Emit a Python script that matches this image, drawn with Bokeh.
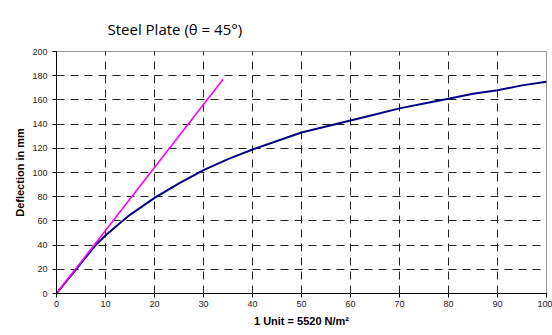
from bokeh.plotting import figure
from bokeh.models import Range1d, FixedTicker
from bokeh.embed import file_html
from bokeh.resources import INLINE

# Data
navy_x = [0, 2, 4, 6, 8, 10, 12, 15, 20, 25, 30, 35, 40, 45, 50, 55, 60, 65, 70, 75, 80, 85, 90, 95, 100]
navy_y = [0, 10, 20, 30, 40, 48, 55, 65, 79, 91, 102, 111, 119, 126, 133, 138, 143, 148, 153, 157, 161, 165, 168, 172, 175]
magenta_x = [0, 34]
magenta_y = [0, 177]
x_ticks = [0, 10, 20, 30, 40, 50, 60, 70, 80, 90, 100]
y_ticks = [0, 20, 40, 60, 80, 100, 120, 140, 160, 180, 200]

p = figure(width=552, height=335, output_backend="svg", toolbar_location=None,
           x_range=Range1d(0, 100), y_range=Range1d(0, 200),
           min_border_left=56, min_border_right=6, min_border_top=51, min_border_bottom=42)

p.title.text = "Steel Plate (\u03b8 = 45\u00b0)"
p.title.text_font = "Open Sans"
p.title.text_font_size = "15px"
p.title.text_font_style = "normal"
p.title.text_color = "black"
p.title.align = "left"
p.title.offset = 51
p.title.standoff = 26

p.line(navy_x, navy_y, line_color="#000080", line_width=2)
p.line(magenta_x, magenta_y, line_color="#FF00FF", line_width=1.6)

for ax in (p.xaxis[0], p.yaxis[0]):
    ax.axis_line_color = "black"
    ax.major_tick_line_color = "black"
    ax.major_tick_in = 0
    ax.major_tick_out = 4
    ax.minor_tick_line_color = None
    ax.major_label_text_font = "Liberation Sans"
    ax.major_label_text_font_size = "9px"
    ax.major_label_text_color = "#222222"
    ax.axis_label_text_font = "Liberation Sans"
    ax.axis_label_text_font_size = "11px"
    ax.axis_label_text_font_style = "bold"
    ax.axis_label_text_color = "black"

p.xaxis[0].ticker = FixedTicker(ticks=x_ticks)
p.yaxis[0].ticker = FixedTicker(ticks=y_ticks)
p.xaxis[0].axis_label = "1 Unit = 5520 N/m\u00b2"
p.yaxis[0].axis_label = "Deflection in mm"
p.xaxis[0].major_label_standoff = 3
p.yaxis[0].major_label_standoff = 5
p.xaxis[0].axis_label_standoff = 5
p.yaxis[0].axis_label_standoff = 3

for g in (p.xgrid[0], p.ygrid[0]):
    g.grid_line_color = "#222222"
    g.grid_line_dash = "8 6"
    g.grid_line_width = 1

p.outline_line_color = "#999999"
p.background_fill_color = "white"
p.border_fill_color = "white"

open("out.html", "w").write(file_html(p, INLINE))
